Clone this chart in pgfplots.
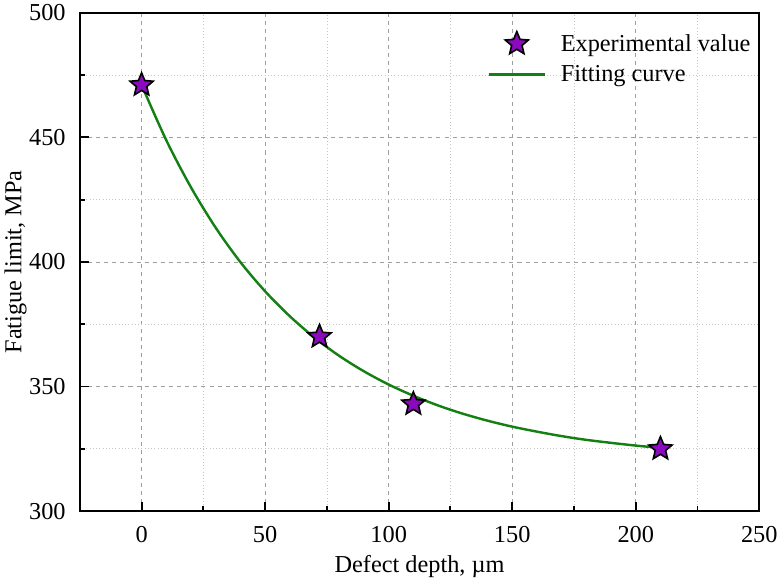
\documentclass[border=0pt]{standalone}
\usepackage{pgfplots}
\pgfplotsset{compat=1.18}
\usepackage{fontspec}
\setmainfont{Liberation Serif}
\definecolor{starfill}{RGB}{140,10,190}
\definecolor{fitgreen}{RGB}{20,128,20}

% filled five-pointed star mark
\pgfdeclareplotmark{fivestar}{%
  \pgfpathmoveto{\pgfpointpolar{90}{\pgfplotmarksize}}%
  \pgfpathlineto{\pgfpointpolar{126}{0.45\pgfplotmarksize}}%
  \pgfpathlineto{\pgfpointpolar{162}{\pgfplotmarksize}}%
  \pgfpathlineto{\pgfpointpolar{198}{0.45\pgfplotmarksize}}%
  \pgfpathlineto{\pgfpointpolar{234}{\pgfplotmarksize}}%
  \pgfpathlineto{\pgfpointpolar{270}{0.45\pgfplotmarksize}}%
  \pgfpathlineto{\pgfpointpolar{306}{\pgfplotmarksize}}%
  \pgfpathlineto{\pgfpointpolar{342}{0.45\pgfplotmarksize}}%
  \pgfpathlineto{\pgfpointpolar{18}{\pgfplotmarksize}}%
  \pgfpathlineto{\pgfpointpolar{54}{0.45\pgfplotmarksize}}%
  \pgfpathclose
  \pgfusepathqfillstroke
}

\pgfplotsset{
  long line legend/.style={legend image code/.code={\draw[##1] (0cm,0cm) -- (1.45cm,0cm);}},
  centred mark legend/.style={legend image code/.code={\draw[##1] plot coordinates {(0.725cm,0cm)};}},
}

\begin{document}
\begin{tikzpicture}
\begin{axis}[
  scale only axis,
  width=503pt, height=369pt,
  xmin=-25, xmax=250, ymin=300, ymax=500,
  xtick={0,50,...,250}, ytick={300,350,...,500},
  minor x tick num=1, minor y tick num=1,
  tick align=inside,
  xtick pos=bottom, ytick pos=left,
  major tick length=6.5pt, minor tick length=3.5pt,
  tick style={line width=1.4pt, black},
  axis line style={line width=1.6pt},
  grid=both,
  major grid style={dashed, gray!75, line width=0.6pt},
  minor grid style={dotted, gray!45, line width=0.5pt},
  /pgf/number format/assume math mode=true,
  tick label style={font=\fontsize{18}{21}\selectfont},
  label style={font=\fontsize{18}{21}\selectfont},
  xticklabel shift=7.5pt, yticklabel shift=7pt,
  xlabel={Defect depth, µm},
  ylabel={Fatigue limit, MPa},
  xlabel style={yshift=-3pt},
  ylabel style={yshift=-5pt},
  legend style={draw=none, fill=none, at={(0.594,0.968)}, anchor=north west,
    font=\fontsize{18}{21}\selectfont, row sep=5pt, column sep=9pt},
  legend cell align=left,
]
% measured fatigue limits
\addplot[only marks, mark=fivestar, mark size=9pt,
  mark options={fill=starfill, draw=black, line width=1.2pt},
  centred mark legend]
  coordinates {(0,471) (72,370) (110,343) (210,325)};
% fitted exponential decay curve
\addplot[fitgreen, line width=1.8pt, smooth, long line legend]
  coordinates {
  (0,471.0) (10,448.8) (20,429.9) (30,413.7) (40,399.9) (50,388.2)
  (60,378.2) (70,369.6) (80,362.3) (90,356.1) (100,350.8) (110,346.3)
  (120,342.4) (130,339.1) (140,336.3) (150,333.9) (160,331.9) (170,330.1)
  (180,328.6) (190,327.4) (200,326.3) (210,325.4)
  };
\legend{Experimental value, Fitting curve}
\end{axis}
\end{tikzpicture}
\end{document}
